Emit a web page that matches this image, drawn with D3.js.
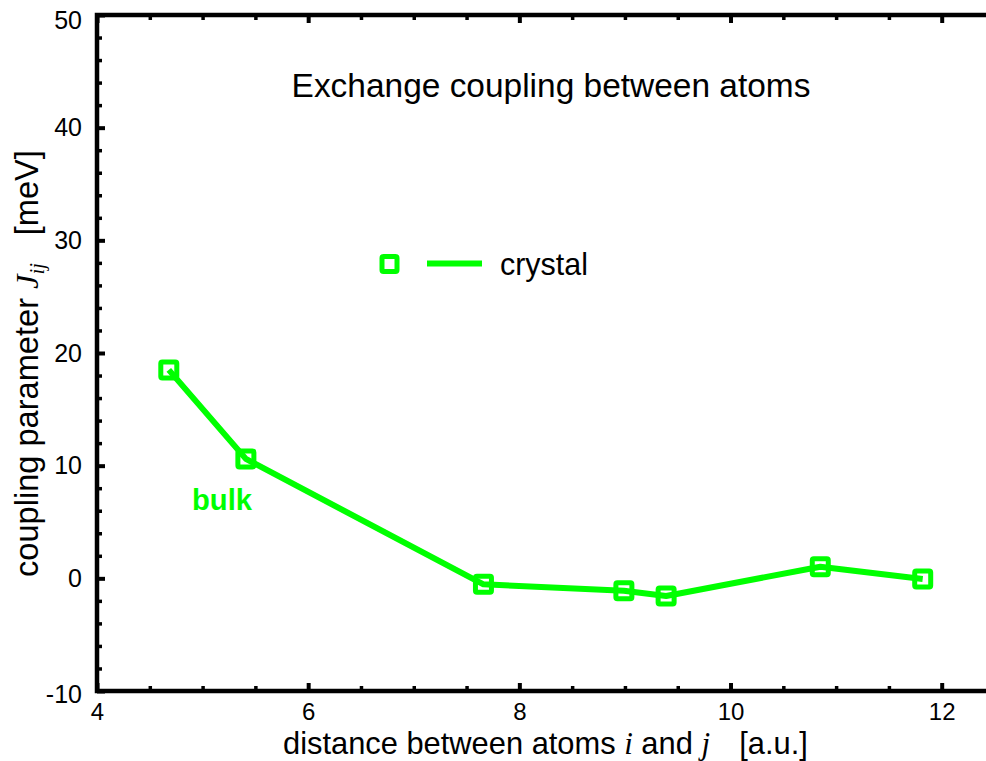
<!DOCTYPE html>
<html>
<head>
<meta charset="utf-8">
<script src="https://cdn.jsdelivr.net/npm/d3@7"></script>
<style>
  html, body { margin: 0; padding: 0; background: #fff; }
  svg { display: block; }
  text { font-family: "Liberation Sans", Arial, Helvetica, sans-serif; fill: #000; }
</style>
</head>
<body>
<svg id="chart" width="986" height="761"></svg>
<script>
// ---- data ----
const distances = [4.68, 5.41, 7.66, 8.99, 9.39, 10.85, 11.82];
const coupling  = [18.5, 10.6, -0.53, -1.10, -1.57, 1.03, -0.06];
const seriesName = "crystal";
const xMajorTicks = [4, 6, 8, 10, 12];
const xMinorTicks = [4.5, 5, 5.5, 6.5, 7, 7.5, 8.5, 9, 9.5, 10.5, 11, 11.5, 12.5];
const yMajorTicks = [-10, 0, 10, 20, 30, 40, 50];
const yMinorTicks = [-8, -6, -4, -2, 2, 4, 6, 8, 12, 14, 16, 18, 22, 24, 26, 28, 32, 34, 36, 38, 42, 44, 46, 48];
const titleText = "Exchange coupling between atoms";
const annotationText = "bulk";

// ---- layout ----
const svg = d3.select("#chart");
const mLeft = 97, mRight = 994.5, mTop = 15, mBottom = 691;
const green = "#00ff00";
const sansFont = "Liberation Sans, Arial, Helvetica, sans-serif";
const serifFont = "Liberation Serif, Times New Roman, serif";

const x = d3.scaleLinear().domain([4, 12.5]).range([mLeft, mRight]);
const y = d3.scaleLinear().domain([-10, 50]).range([mBottom, mTop]);
const fmt = d => String(d);   // plain hyphen-minus like the reference

// fit a text's font size so that its width matches a target width
function fitWidth(sel, target) {
  const fs = +sel.attr("font-size");
  const w = sel.node().getBBox().width;
  sel.attr("font-size", fs * target / w);
}

// frame
svg.append("rect")
  .attr("x", mLeft).attr("y", mTop)
  .attr("width", mRight - mLeft).attr("height", mBottom - mTop)
  .attr("fill", "none").attr("stroke", "#000").attr("stroke-width", 4.5);

function styleAxis(g, w) {
  g.select(".domain").remove();
  g.selectAll(".tick line").attr("stroke", "#000").attr("stroke-width", w);
}

// bottom axis
svg.append("g").attr("transform", `translate(0,${mBottom})`)
  .call(d3.axisBottom(x).tickValues(xMajorTicks).tickSize(-8).tickPadding(12).tickFormat(fmt))
  .call(g => styleAxis(g, 4))
  .call(g => g.attr("font-family", sansFont).selectAll("text").attr("font-size", 24));
svg.append("g").attr("transform", `translate(0,${mBottom})`)
  .call(d3.axisBottom(x).tickValues(xMinorTicks).tickSize(-5).tickFormat(""))
  .call(g => styleAxis(g, 3.5));
// top axis
svg.append("g").attr("transform", `translate(0,${mTop})`)
  .call(d3.axisTop(x).tickValues(xMajorTicks).tickSize(-8).tickFormat(""))
  .call(g => styleAxis(g, 4));
svg.append("g").attr("transform", `translate(0,${mTop})`)
  .call(d3.axisTop(x).tickValues(xMinorTicks).tickSize(-5).tickFormat(""))
  .call(g => styleAxis(g, 3.5));
// left axis
svg.append("g").attr("transform", `translate(${mLeft},0)`)
  .call(d3.axisLeft(y).tickValues(yMajorTicks).tickSize(-8).tickPadding(15).tickFormat(fmt))
  .call(g => styleAxis(g, 4))
  .call(g => g.attr("font-family", sansFont).selectAll("text").attr("font-size", 25))
  .call(g => g.selectAll(".tick").filter(d => d === 50).select("text").attr("dy", "0.52em"))
  .call(g => g.selectAll(".tick").filter(d => d === -10).select("text").attr("dy", "0.44em"));
svg.append("g").attr("transform", `translate(${mLeft},0)`)
  .call(d3.axisLeft(y).tickValues(yMinorTicks).tickSize(-5).tickFormat(""))
  .call(g => styleAxis(g, 3.5));
// right axis
svg.append("g").attr("transform", `translate(${mRight},0)`)
  .call(d3.axisRight(y).tickValues(yMajorTicks).tickSize(-8).tickFormat(""))
  .call(g => styleAxis(g, 4));
svg.append("g").attr("transform", `translate(${mRight},0)`)
  .call(d3.axisRight(y).tickValues(yMinorTicks).tickSize(-5).tickFormat(""))
  .call(g => styleAxis(g, 3.5));

// ---- series ----
const pts = distances.map((d, i) => [d, coupling[i]]);
const line = d3.line().x(d => x(d[0])).y(d => y(d[1]));
svg.append("path").datum(pts)
  .attr("d", line)
  .attr("fill", "none").attr("stroke", green).attr("stroke-width", 6)
  .attr("stroke-linejoin", "round");

const ms = 16;
svg.append("g").selectAll("rect").data(pts).join("rect")
  .attr("x", d => x(d[0]) - ms / 2).attr("y", d => y(d[1]) - ms / 2)
  .attr("width", ms).attr("height", ms)
  .attr("fill", "none").attr("stroke", green).attr("stroke-width", 5)
  .attr("rx", 1.5);

// ---- legend ----
const lg = svg.append("g");
lg.append("rect").attr("x", 389.5 - 7.5).attr("y", 264 - 7.5).attr("width", 15).attr("height", 15)
  .attr("fill", "none").attr("stroke", green).attr("stroke-width", 5).attr("rx", 1.5);
lg.append("line").attr("x1", 427).attr("x2", 482).attr("y1", 263.5).attr("y2", 263.5)
  .attr("stroke", green).attr("stroke-width", 6);
const legText = lg.append("text").attr("x", 500).attr("y", 275).attr("font-size", 30)
  .attr("font-family", sansFont).text(seriesName);
fitWidth(legText, 88);

// ---- title ----
const title = svg.append("text").attr("x", 551).attr("y", 97).attr("text-anchor", "middle")
  .attr("font-size", 32).attr("font-family", sansFont).text(titleText);
fitWidth(title, 519);

// ---- annotation ----
const ann = svg.append("text").attr("x", 192).attr("y", 510).attr("font-size", 29)
  .attr("font-family", sansFont).attr("font-weight", "bold").style("fill", green).text(annotationText);
fitWidth(ann, 61);

// ---- x label ----
const xl = svg.append("text").attr("x", 283).attr("y", 754).attr("font-size", 30).attr("font-family", sansFont);
xl.append("tspan").text("distance between atoms ");
xl.append("tspan").attr("font-family", serifFont).attr("font-style", "italic").text("i");
xl.append("tspan").text(" and ");
xl.append("tspan").attr("font-family", serifFont).attr("font-style", "italic").text("j");
xl.append("tspan").attr("dx", "0.95em").text("[a.u.]");
fitWidth(xl, 525);

// ---- y label ----
const yl = svg.append("text").attr("transform", "translate(38,577) rotate(-90)").attr("font-size", 30)
  .attr("font-family", sansFont);
yl.append("tspan").text("coupling parameter ");
yl.append("tspan").attr("font-family", serifFont).attr("font-style", "italic").text("J");
yl.append("tspan").attr("font-family", serifFont).attr("font-style", "italic")
  .attr("font-size", "0.63em").attr("dy", "0.3em").text("ij");
yl.append("tspan").attr("dy", "-0.2em").attr("dx", "0.85em").text("[meV]");
fitWidth(yl, 427);
</script>
</body>
</html>
